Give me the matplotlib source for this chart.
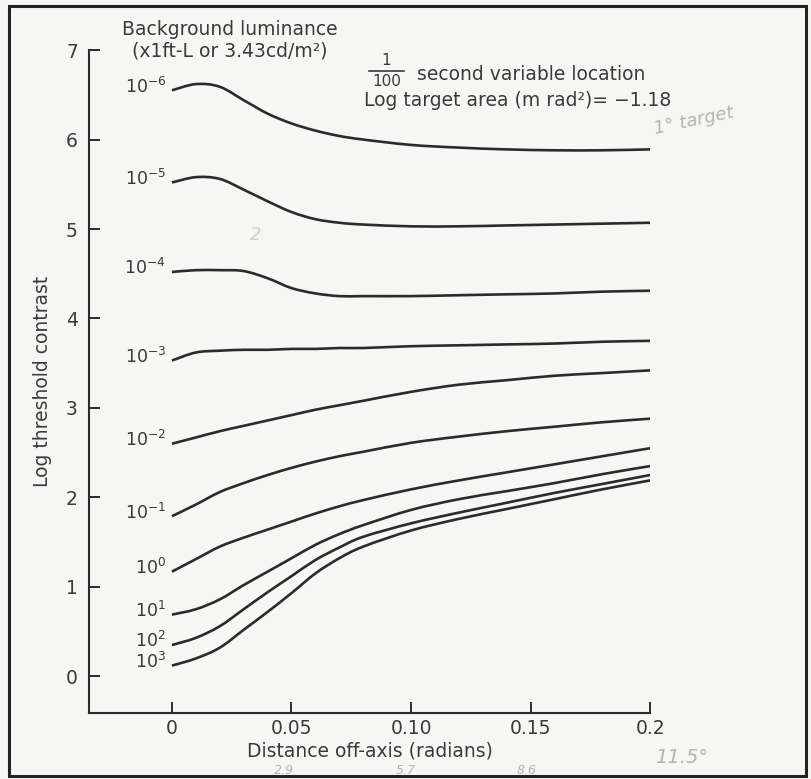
import matplotlib as mpl
mpl.use("Agg")
import matplotlib.pyplot as plt
import numpy as np
from matplotlib.patches import Rectangle, PathPatch
from matplotlib.path import Path
from matplotlib.lines import Line2D

mpl.rcParams.update({
    "font.family": "DejaVu Sans", "font.size": 13.5,
    "mathtext.fontset": "dejavusans",
})

# ── Data ──────────────────────────────────────────────────────────────────────
# distance off-axis (radians)
DIST = [0, 0.01, 0.02, 0.03, 0.04, 0.05, 0.06, 0.07, 0.08,
        0.10, 0.12, 0.14, 0.16, 0.18, 0.20]

# background luminance exponents (x 1 ft-L)
LUM_EXP = [-6, -5, -4, -3, -2, -1, 0, 1, 2, 3]

# log threshold contrast, one list per background luminance
LTC_M6 = [6.55, 6.62, 6.59, 6.44, 6.29, 6.18, 6.10, 6.04, 6.00,
          5.94, 5.91, 5.89, 5.88, 5.88, 5.89]
LTC_M5 = [5.52, 5.58, 5.56, 5.44, 5.31, 5.19, 5.11, 5.07, 5.05,
          5.03, 5.03, 5.04, 5.05, 5.06, 5.07]
LTC_M4 = [4.52, 4.54, 4.54, 4.53, 4.45, 4.34, 4.28, 4.25, 4.25,
          4.25, 4.26, 4.27, 4.28, 4.30, 4.31]
LTC_M3 = [3.53, 3.62, 3.64, 3.65, 3.65, 3.66, 3.66, 3.67, 3.67,
          3.69, 3.70, 3.71, 3.72, 3.74, 3.75]
LTC_M2 = [2.60, 2.67, 2.74, 2.80, 2.86, 2.92, 2.98, 3.03, 3.08,
          3.18, 3.26, 3.31, 3.36, 3.39, 3.42]
LTC_M1 = [1.79, 1.92, 2.06, 2.16, 2.25, 2.33, 2.40, 2.46, 2.51,
          2.61, 2.68, 2.74, 2.79, 2.84, 2.88]
LTC_P0 = [1.17, 1.31, 1.45, 1.55, 1.64, 1.73, 1.82, 1.90, 1.97,
          2.09, 2.19, 2.28, 2.37, 2.46, 2.55]
LTC_P1 = [0.69, 0.75, 0.86, 1.02, 1.17, 1.32, 1.47, 1.59, 1.69,
          1.86, 1.98, 2.07, 2.16, 2.26, 2.35]
LTC_P2 = [0.35, 0.43, 0.56, 0.75, 0.94, 1.12, 1.30, 1.44, 1.56,
          1.71, 1.83, 1.94, 2.05, 2.15, 2.25]
LTC_P3 = [0.12, 0.20, 0.32, 0.52, 0.72, 0.93, 1.15, 1.32, 1.45,
          1.63, 1.76, 1.87, 1.98, 2.09, 2.19]

CURVES = [LTC_M6, LTC_M5, LTC_M4, LTC_M3, LTC_M2,
          LTC_M1, LTC_P0, LTC_P1, LTC_P2, LTC_P3]

X_TICKS = [0, 0.05, 0.10, 0.15, 0.2]
X_TICKLABELS = ["0", "0.05", "0.10", "0.15", "0.2"]
Y_TICKS = [0, 1, 2, 3, 4, 5, 6, 7]

# ── Colours ──────────────────────────────────────────────────────────────────
CLR_INK = "#2b2b2b"
CLR_TEXT = "#3a3a3a"
CLR_PENCIL = "#b4b4b4"
CLR_PAPER = "#f6f6f4"


def smooth_path(xs, ys):
    """Bezier path through the read points (Catmull-Rom tangents)."""
    p = np.column_stack([xs, ys]).astype(float)
    n = len(p)
    verts = [p[0]]
    codes = [Path.MOVETO]
    for i in range(n - 1):
        p0 = p[i - 1] if i > 0 else p[i]
        p1, p2 = p[i], p[i + 1]
        p3 = p[i + 2] if i + 2 < n else p[i + 1]
        verts += [p1 + (p2 - p0) / 6, p2 - (p3 - p1) / 6, p2]
        codes += [Path.CURVE4] * 3
    return Path(verts, codes)


fig = plt.figure(figsize=(8.12, 7.79), dpi=100, facecolor=CLR_PAPER)
ax = fig.add_axes([0.1096, 0.0847, 0.691, 0.851], facecolor=CLR_PAPER)

for lum, ys in zip(LUM_EXP, CURVES):
    ax.add_patch(PathPatch(smooth_path(DIST, ys), fill=False, ec=CLR_INK,
                           lw=1.9, capstyle="butt", zorder=3))
    ax.text(-0.0025, ys[0] + 0.04, rf"$10^{{{lum}}}$", ha="right", va="center",
            fontsize=12.5, color=CLR_TEXT)

ax.set_xlim(-0.0347, 0.2)
ax.set_ylim(-0.41, 7)
ax.set_xticks(X_TICKS)
ax.set_xticklabels(X_TICKLABELS)
ax.set_yticks(Y_TICKS)
ax.tick_params(direction="in", length=8, width=1.4, color=CLR_INK,
               labelcolor=CLR_TEXT, labelsize=13.5)
ax.tick_params(axis="x", pad=4)
ax.tick_params(axis="y", pad=8)
for side in ("top", "right"):
    ax.spines[side].set_visible(False)
for side in ("left", "bottom"):
    ax.spines[side].set_linewidth(1.5)
    ax.spines[side].set_color(CLR_INK)

ax.set_xlabel("Distance off-axis (radians)", fontsize=13.5, color=CLR_TEXT,
              labelpad=3)
ax.set_ylabel("Log threshold contrast", fontsize=13.5, color=CLR_TEXT,
              labelpad=10)

# ── Annotations ───────────────────────────────────────────────────────────────
fig.text(0.283, 0.962, "Background luminance", ha="center", va="center",
         fontsize=13.5, color=CLR_TEXT)
fig.text(0.283, 0.935, "(x1ft-L or 3.43cd/m²)", ha="center", va="center",
         fontsize=13.5, color=CLR_TEXT)
# 1/100 written as a stacked fraction
fig.text(0.476, 0.922, "1", ha="center", va="center", fontsize=11,
         color=CLR_TEXT)
fig.text(0.476, 0.896, "100", ha="center", va="center", fontsize=11,
         color=CLR_TEXT)
fig.lines.append(Line2D([0.455, 0.497], [0.909, 0.909], lw=1.2,
                        color=CLR_TEXT, transform=fig.transFigure))
fig.text(0.513, 0.905, "second variable location", ha="left", va="center",
         fontsize=13.5, color=CLR_TEXT)
fig.text(0.448, 0.871, "Log target area (m rad²)= −1.18", ha="left",
         va="center", fontsize=13.5, color=CLR_TEXT)

# pencil notes on the scan
fig.text(0.855, 0.845, "1° target", ha="center", va="center", fontsize=13,
         color=CLR_PENCIL, rotation=12, style="italic")
fig.text(0.315, 0.698, "2", ha="center", va="center", fontsize=13,
         color="#cfcfcf", style="italic")
for xf, note in [(0.35, "2.9"), (0.50, "5.7"), (0.648, "8.6")]:
    fig.text(xf, 0.011, note, ha="center", va="center", fontsize=9,
             color=CLR_PENCIL, style="italic")
fig.text(0.84, 0.027, "11.5°", ha="center", va="center", fontsize=14,
         color=CLR_PENCIL, style="italic")

# scan frame
fig.patches.append(Rectangle((0.011, 0.004), 0.981, 0.988, fill=False,
                             lw=2.2, ec="#222222", transform=fig.transFigure))

fig.savefig("out.png", dpi=100, facecolor=fig.get_facecolor())
